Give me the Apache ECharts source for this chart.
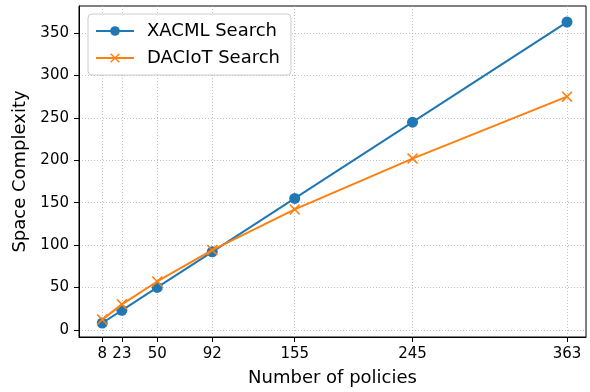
<!DOCTYPE html>
<html>
<head>
<meta charset="utf-8">
<script src="https://cdn.jsdelivr.net/npm/echarts@6/dist/echarts.min.js"></script>
<style>
  html, body { margin: 0; padding: 0; background: #fff; }
  #chart { width: 590px; height: 392px; }
</style>
</head>
<body>
<div id="chart"></div>
<script>
// Number of policies on the x axis
const policies = [8, 23, 50, 92, 155, 245, 363];
// Space complexity per approach
const xacmlSearch = [8, 23, 50, 92, 155, 245, 363];
const daciotSearch = [12, 30, 57, 94, 142, 202, 275];
// Tick positions
const xTicks = [8, 23, 50, 92, 155, 245, 363];
const yTicks = [0, 50, 100, 150, 200, 250, 300, 350];

const FONT = 'DejaVu Sans';
const crossPath = 'path://M1,0L5,4L9,0L10,1L6,5L10,9L9,10L5,6L1,10L0,9L4,5L0,1Z';

const pairs = (xs, ys) => xs.map((x, i) => [x, ys[i]]);

const chart = echarts.init(document.getElementById('chart'), null, { renderer: 'canvas' });
chart.setOption({
  animation: false,
  backgroundColor: '#fff',
  grid: {
    left: 79, right: 4, top: 6, bottom: 55,
    show: true, borderColor: '#000', borderWidth: 1, backgroundColor: 'transparent'
  },
  legend: {
    orient: 'vertical',
    left: 88, top: 14,
    padding: [8, 11, 8, 7],
    itemWidth: 38, itemHeight: 12, itemGap: 9,
    backgroundColor: '#fff',
    borderColor: '#ccc', borderWidth: 1, borderRadius: 4,
    textStyle: { fontFamily: FONT, fontSize: 18, color: '#000', padding: [0, 0, 0, 8] },
    data: ['XACML Search', 'DACIoT Search']
  },
  xAxis: {
    type: 'value',
    min: -9.75, max: 377.5,
    name: 'Number of policies',
    nameLocation: 'middle', nameGap: 32,
    nameTextStyle: { fontFamily: FONT, fontSize: 18, color: '#000' },
    axisLine: { show: true, onZero: false, lineStyle: { color: '#000', width: 1 } },
    axisTick: { show: true, inside: false, length: 5, customValues: xTicks, lineStyle: { color: '#000' } },
    axisLabel: { customValues: xTicks, fontFamily: FONT, fontSize: 15, color: '#000', margin: 10 },
    splitLine: { show: true, lineStyle: { color: '#b0b0b0', type: [1, 2], width: 0.8 } }
  },
  yAxis: {
    type: 'value',
    min: -8.5, max: 382,
    name: 'Space Complexity',
    nameLocation: 'middle', nameGap: 47,
    nameTextStyle: { fontFamily: FONT, fontSize: 18, color: '#000' },
    axisLine: { show: true, onZero: false, lineStyle: { color: '#000', width: 1 } },
    axisTick: { show: true, inside: false, length: 5, customValues: yTicks, lineStyle: { color: '#000' } },
    axisLabel: { customValues: yTicks, fontFamily: FONT, fontSize: 15, color: '#000', margin: 10 },
    splitLine: { show: true, lineStyle: { color: '#b0b0b0', type: [1, 2], width: 0.8 } }
  },
  series: [
    {
      name: 'XACML Search',
      type: 'line',
      data: pairs(policies, xacmlSearch),
      symbol: 'circle', symbolSize: 11,
      lineStyle: { color: '#1f77b4', width: 2 },
      itemStyle: { color: '#1f77b4' },
      z: 2
    },
    {
      name: 'DACIoT Search',
      type: 'line',
      data: pairs(policies, daciotSearch),
      symbol: crossPath, symbolSize: 11,
      lineStyle: { color: '#ff7f0e', width: 2 },
      itemStyle: { color: '#ff7f0e' },
      z: 3
    }
  ]
});
</script>
</body>
</html>
